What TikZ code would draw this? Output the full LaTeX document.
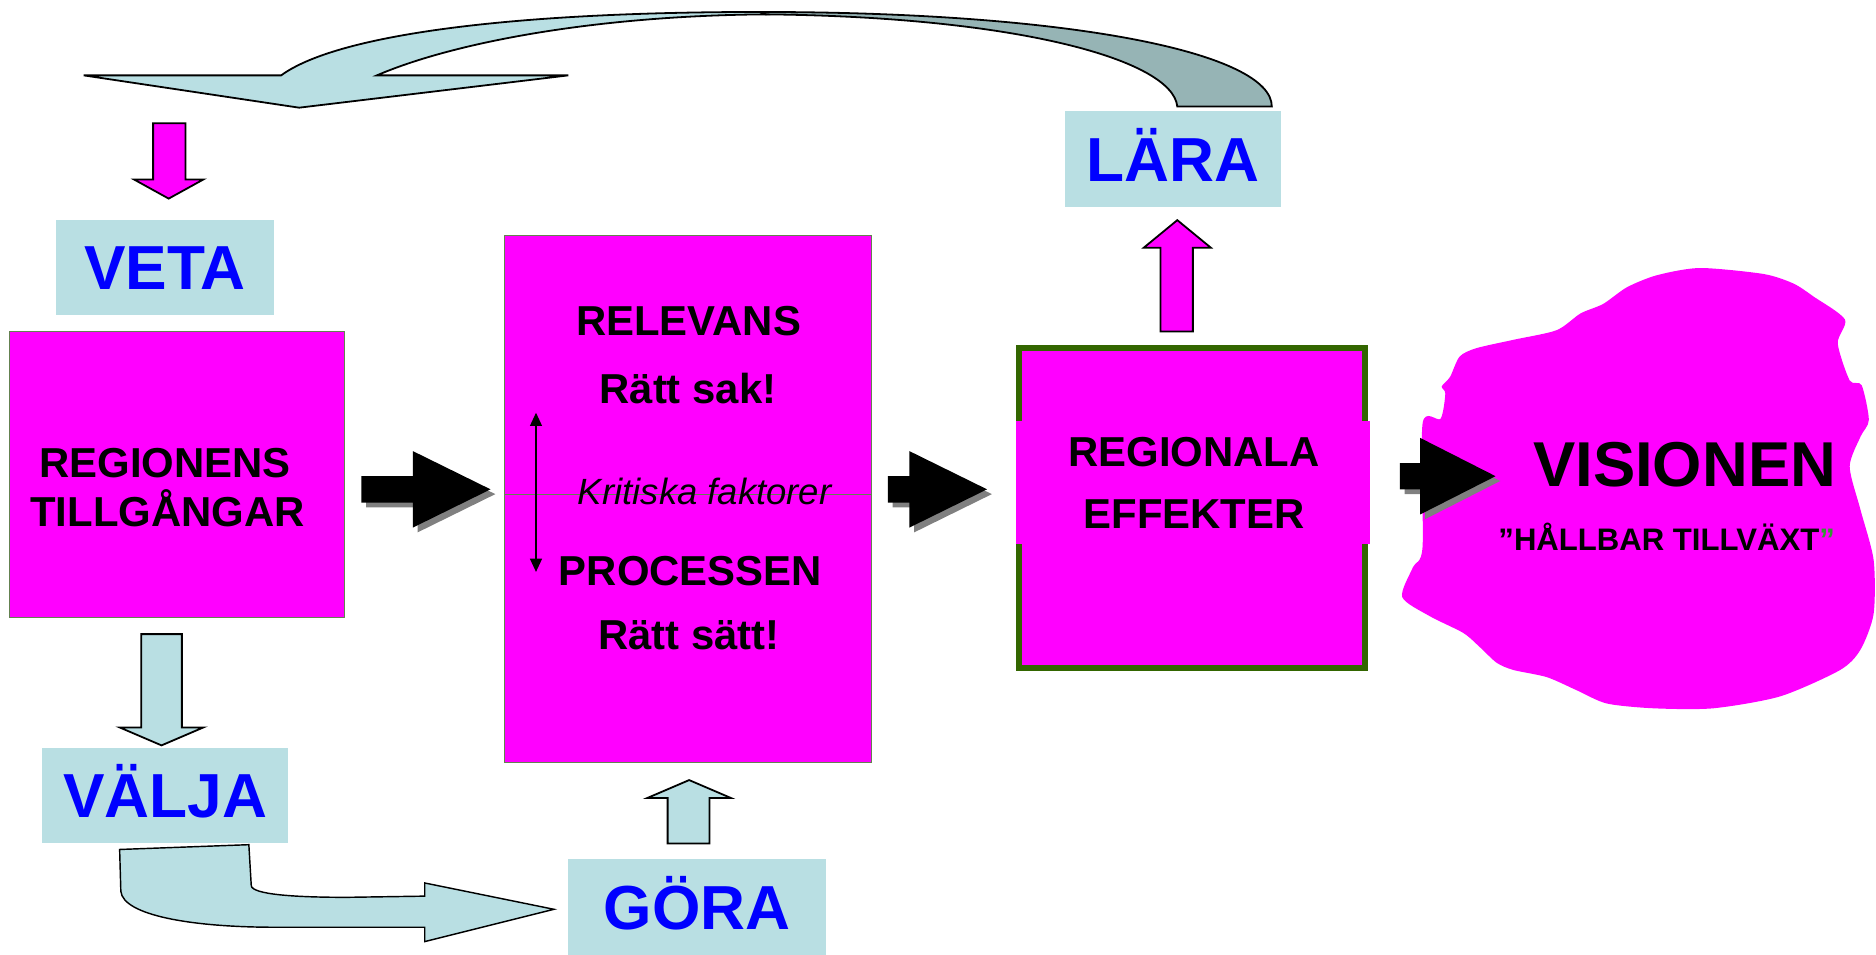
\documentclass[tikz,border=0pt]{standalone}
\usepackage{fontspec}
\setmainfont{Liberation Sans}
\usetikzlibrary{arrows.meta}

\definecolor{mag}{RGB}{255,0,255}
\definecolor{pale}{RGB}{185,223,227}
\definecolor{paledark}{RGB}{150,180,181}
\definecolor{boxline}{RGB}{100,130,80}
\definecolor{effgreen}{RGB}{51,102,0}
\definecolor{quotegreen}{RGB}{51,153,51}

\begin{document}
\begin{tikzpicture}[x=1pt,y=-1pt,
	tag/.style={fill=pale, inner sep=0pt, text=blue, font=\fontsize{52}{52}\selectfont\bfseries, text height=37pt, text depth=0pt},
	magbox/.style={draw=boxline, line width=0.8pt, fill=mag, inner sep=0pt},
	boxtext/.style={anchor=base, inner sep=0pt, font=\fontsize{35}{41}\selectfont\bfseries},
	blockarrow/.style={draw=black, line width=1.5pt, line join=miter}
]
	\useasboundingbox (0,0) rectangle (1568,798);

	\def\shaft{11}		% half height of the black shafts
	\def\head{32}		% half height of the black heads
	\def\drop{4}		% offset of the shadow

	% the curved arrow from LARA back to VETA
	\draw[blockarrow, fill=paledark] (635,10) .. controls (900,10) and (1063,45) .. (1063,89) -- (984,89)
		.. controls (980,50) and (850,14) .. (640,12) -- cycle;
	\draw[blockarrow, fill=pale] (635,10) .. controls (420,10) and (280,30) .. (235,63) -- (70,63) -- (250,90) -- (475,63) -- (315,63)
		.. controls (380,35) and (500,13) .. (640,12) -- cycle;

	% labels
	\node[tag, minimum width=182pt, minimum height=79pt] (veta) at (138,223.5) {VETA};
	\node[tag, minimum width=181pt, minimum height=80pt] (lara) at (980.5,133) {LÄRA};
	\node[tag, minimum width=206pt, minimum height=80pt] (valja) at (138,665) {VÄLJA};
	\node[tag, minimum width=215pt, minimum height=80pt] (gora) at (582.5,758) {GÖRA};

	% boxes
	\node[magbox, minimum width=280pt, minimum height=239pt] (assets) at (148,396.5) {};
	\node[boxtext] (assets1) at (138,399) {REGIONENS};
	\node[boxtext] (assets2) at (140,440) {TILLGÅNGAR};

	\node[magbox, minimum width=306pt, minimum height=440pt] (process) at (575,417) {};
	\draw[boxline, line width=1pt] (process.west |- 0,413) -- (process.east |- 0,413);
	\node[boxtext] (relevans) at (575.5,280) {RELEVANS};
	\node[boxtext] (sak) at (575,337) {Rätt sak!};
	\node[boxtext, font=\fontsize{30.5}{36}\selectfont\itshape] (kritiska) at (589,422) {Kritiska faktorer};
	\node[boxtext] (processen) at (577,489) {PROCESSEN};
	\node[boxtext] (satt) at (576,543) {Rätt sätt!};
	\coordinate (crittop) at (448,345);
	\coordinate (critbot) at (448,478);
	\draw[{Triangle[width=10pt,length=11pt]}-{Triangle[width=10pt,length=11pt]}, line width=1pt] (crittop) -- (critbot);

	\node[draw=effgreen, line width=5pt, fill=mag, inner sep=0pt, minimum width=289pt, minimum height=268pt] (effects) at (996,424.5) {};
	\node[fill=mag, inner sep=0pt, minimum width=296pt, minimum height=103pt] (effstrip) at (997,403.5) {};
	\node[boxtext] (effects1) at (998,390) {REGIONALA};
	\node[boxtext] (effects2) at (998,442) {EFFEKTER};

	% the vision
	\fill[mag] plot[smooth cycle, tension=0.45] coordinates {
		(1385,230) (1421,224) (1474,229) (1499,237) (1516,248) (1542,267) (1536,287) (1546,318)
		(1556,322) (1562,351) (1555,365) (1546,390) (1555,426) (1566,468) (1566,513) (1555,543)
		(1538,560) (1488,582) (1432,592) (1382,592) (1343,588) (1318,577) (1293,566) (1265,560)
		(1251,554) (1237,541) (1223,529) (1195,515) (1172,499) (1181,474) (1189,457) (1189,354)
		(1204,350) (1208,329) (1205,323) (1212,315) (1220,298) (1234,291) (1265,284)
		(1301,276) (1321,262) (1340,254) (1360,240)};
	\node[boxtext, font=\fontsize{53}{53}\selectfont\bfseries] (vision) at (1408,407) {VISIONEN};
	\node[boxtext, font=\fontsize{26}{26}\selectfont\bfseries] (growth) at (1393,460) {”HÅLLBAR TILLVÄXT\textcolor{quotegreen}{”}};

	% black arrows with shadow
	\foreach \tx/\bx/\hx/\cy in {302/345/410/409, 742/760/825/409, 1170/1187/1250/398}{
		\fill[gray, shift={(\drop,\drop)}] (\tx,\cy-\shaft) -- (\bx,\cy-\shaft) -- (\bx,\cy-\head) -- (\hx,\cy)
			-- (\bx,\cy+\head) -- (\bx,\cy+\shaft) -- (\tx,\cy+\shaft) -- cycle;
		\fill[black] (\tx,\cy-\shaft) -- (\bx,\cy-\shaft) -- (\bx,\cy-\head) -- (\hx,\cy)
			-- (\bx,\cy+\head) -- (\bx,\cy+\shaft) -- (\tx,\cy+\shaft) -- cycle;
	}

	% small block arrows
	\draw[blockarrow, fill=mag] (128,103) -- (155,103) -- (155,150) -- (170,150) -- (141,166) -- (112,150) -- (128,150) -- cycle;
	\draw[blockarrow, fill=mag] (970,277) -- (997,277) -- (997,207) -- (1012,207) -- (984,184) -- (956,207) -- (970,207) -- cycle;
	\draw[blockarrow, fill=pale] (118,530) -- (152,530) -- (152,608) -- (170,608) -- (135,623) -- (100,608) -- (118,608) -- cycle;
	\draw[blockarrow, fill=pale] (558,705) -- (593,705) -- (593,667) -- (611,667) -- (576,652) -- (541,667) -- (558,667) -- cycle;

	% the bent arrow from VALJA to GORA
	\draw[blockarrow, fill=pale, line width=1.2pt] (100,710) -- (101,745) .. controls (103,765) and (160,775) .. (230,775) -- (355,775) -- (355,787)
		-- (463,760) -- (355,738) -- (355,749) -- (290,750) .. controls (250,750) and (210,748) .. (210,740) -- (208,706) -- cycle;

\end{tikzpicture}
\end{document}
